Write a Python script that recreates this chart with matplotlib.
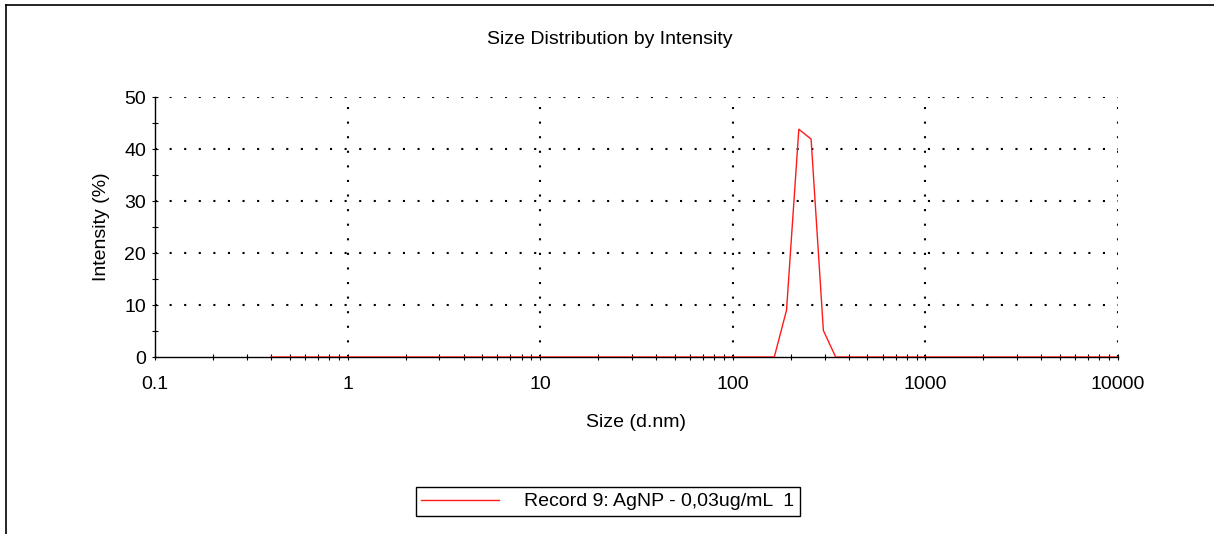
import matplotlib
matplotlib.use("Agg")
import matplotlib.pyplot as plt
from matplotlib.lines import Line2D
from matplotlib.ticker import FixedLocator, FixedFormatter, LogLocator, NullFormatter

plt.rcParams['font.family'] = ['Liberation Sans', 'DejaVu Sans']

# Size bins (d.nm) and intensity (%)
sizes = [0.4000, 0.4632, 0.5365, 0.6213, 0.7195, 0.8332, 0.9650, 1.117, 1.294, 1.499,
         1.736, 2.010, 2.328, 2.696, 3.122, 3.615, 4.187, 4.849, 5.615, 6.503,
         7.531, 8.721, 10.10, 11.70, 13.54, 15.69, 18.17, 21.04, 24.36, 28.21,
         32.67, 37.84, 43.82, 50.75, 58.77, 68.06, 78.82, 91.28, 105.7, 122.4,
         141.8, 164.2, 190.1, 220.2, 255.0, 295.3, 342.0, 396.1, 458.7, 531.2,
         615.1, 712.4, 825.0, 955.4, 1106, 1281, 1484, 1718, 1990, 2305,
         2669, 3091, 3580, 4145, 4801, 5560, 6439, 7456, 8635, 10000]
intensity = [0.0] * 42 + [9.0, 43.8, 41.9, 5.1] + [0.0] * 24
series_label = "Record 9: AgNP - 0,03ug/mL  1"

xticks = [0.1, 1, 10, 100, 1000, 10000]
xtick_labels = ["0.1", "1", "10", "100", "1000", "10000"]
yticks = [0, 10, 20, 30, 40, 50]

W, H = 1214, 534
FS = 14
fig = plt.figure(figsize=(W / 100, H / 100), dpi=100)
ax = fig.add_axes([155 / W, 1 - 357 / H, (1118 - 155) / W, (357 - 97) / H])

ax.plot(sizes, intensity, color='#ff1a1a', lw=1.0, label=series_label, zorder=3)

ax.set_xscale('log')
ax.set_xlim(0.1, 10000)
ax.set_ylim(0, 50)

ax.xaxis.set_major_locator(FixedLocator(xticks))
ax.xaxis.set_major_formatter(FixedFormatter(xtick_labels))
ax.xaxis.set_minor_locator(LogLocator(base=10, subs=range(2, 10), numticks=20))
ax.xaxis.set_minor_formatter(NullFormatter())
ax.set_yticks(yticks)
ax.set_yticks([5, 15, 25, 35, 45], minor=True)

for s in ['top', 'right']:
    ax.spines[s].set_visible(False)
for s in ['left', 'bottom']:
    ax.spines[s].set_linewidth(1.0)
    ax.spines[s].set_color('black')

ax.tick_params(axis='x', which='both', direction='inout', length=5, width=0.8,
               labelsize=FS, pad=11)
ax.tick_params(axis='y', which='both', direction='inout', length=5, width=0.8,
               labelsize=FS, pad=4)

# dotted grid
for xv in xticks[1:]:
    ax.axvline(xv, color='black', lw=1.5, linestyle=(0, (1, 6)), zorder=1)
for yv in yticks[1:]:
    ax.axhline(yv, color='black', lw=1.5, linestyle=(0, (1, 6)), zorder=1)

ax.set_xlabel("Size (d.nm)", fontsize=FS, labelpad=15)
ax.set_ylabel("Intensity (%)", fontsize=FS, labelpad=10)

fig.text(610 / W, 1 - 39 / H, "Size Distribution by Intensity", fontsize=14,
         ha='center', va='center')

leg = fig.legend(loc='center', bbox_to_anchor=(608 / W, 1 - 501.5 / H),
                 fontsize=FS, frameon=True, fancybox=False, framealpha=1,
                 edgecolor='black', handlelength=4.0, handletextpad=1.3,
                 borderpad=0.3, borderaxespad=0)
leg.get_frame().set_linewidth(1.0)

# outer frame lines (top and left)
fig.add_artist(Line2D([6 / W, 1.0], [1 - 5 / H, 1 - 5 / H], transform=fig.transFigure,
                      color='black', lw=1.2))
fig.add_artist(Line2D([6 / W, 6 / W], [1 - 5 / H, 0.0], transform=fig.transFigure,
                      color='black', lw=1.2))

fig.savefig("out.png", dpi=100)
